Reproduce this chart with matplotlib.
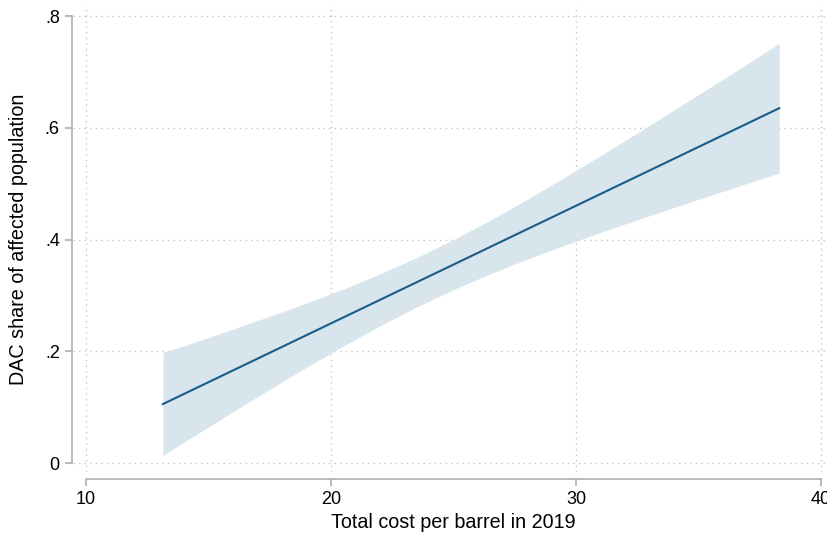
import matplotlib
matplotlib.use("Agg")
import matplotlib.pyplot as plt

plt.rcParams["font.family"] = ["Liberation Sans", "DejaVu Sans"]

# Linear fit of DAC share on cost per barrel
fit_x = [13.14, 38.29]
fit_y = [0.1055, 0.635]

# 95% confidence band of the fit
ci_x = [13.14, 14.5, 16.0, 17.5, 19.0, 20.5, 22.0, 23.5, 25.0, 26.5,
        28.0, 29.5, 31.0, 32.5, 34.0, 35.5, 37.0, 38.29]
ci_lo = [0.0135, 0.0509, 0.0918, 0.1320, 0.1714, 0.2094, 0.2456, 0.2794, 0.3104, 0.3387,
         0.3648, 0.3893, 0.4127, 0.4353, 0.4574, 0.4792, 0.5007, 0.5190]
ci_hi = [0.1975, 0.2173, 0.2396, 0.2626, 0.2864, 0.3114, 0.3384, 0.3678, 0.4000, 0.4347,
         0.4718, 0.5105, 0.5503, 0.5907, 0.6318, 0.6732, 0.7149, 0.7510]

x_ticks = [10, 20, 30, 40]
x_tick_labels = ["10", "20", "30", "40"]
y_ticks = [0, 0.2, 0.4, 0.6, 0.8]
y_tick_labels = ["0", ".2", ".4", ".6", ".8"]

x_label = "Total cost per barrel in 2019"
y_label = "DAC share of affected population"

W, H = 827, 535
fig = plt.figure(figsize=(W / 100, H / 100), dpi=100)
ax = fig.add_axes([73 / W, (H - 472) / H, 754 / W, 467 / H])

ax.fill_between(ci_x, ci_lo, ci_hi, color="#d8e5ec", linewidth=0, zorder=2)
ax.plot(fit_x, fit_y, color="#185d8c", linewidth=1.5, zorder=3)

ax.set_xlim(9.47, 40.24)
ax.set_ylim(-0.0161, 0.8197)

ax.set_xticks(x_ticks)
ax.set_xticklabels(x_tick_labels)
ax.set_yticks(y_ticks)
ax.set_yticklabels(y_tick_labels)

ax.grid(True, linestyle=(0, (1, 3)), color="#c4c4c4", linewidth=1.0, zorder=1)
ax.set_axisbelow(True)

axis_grey = "#a8a8a8"
for side in ("top", "right"):
    ax.spines[side].set_visible(False)
ax.spines["left"].set_position(("outward", 1))
ax.spines["left"].set_bounds(0, 0.8)
ax.spines["bottom"].set_position(("outward", 5))
ax.spines["bottom"].set_bounds(10, 40)
for side in ("left", "bottom"):
    ax.spines[side].set_color(axis_grey)
    ax.spines[side].set_linewidth(1.1)

ax.tick_params(axis="both", direction="out", length=5, width=1.1,
               color=axis_grey, labelcolor="black", labelsize=13)
ax.tick_params(axis="y", pad=3.5)
ax.tick_params(axis="x", pad=4)

fig.text(453.5 / W, (H - 528) / H, x_label, ha="center", va="baseline", fontsize=14.2)
fig.text(19 / W, (H - 239.5) / H, y_label, ha="center", va="center",
         rotation=90, fontsize=14.2)

fig.savefig("out.png", dpi=100)
